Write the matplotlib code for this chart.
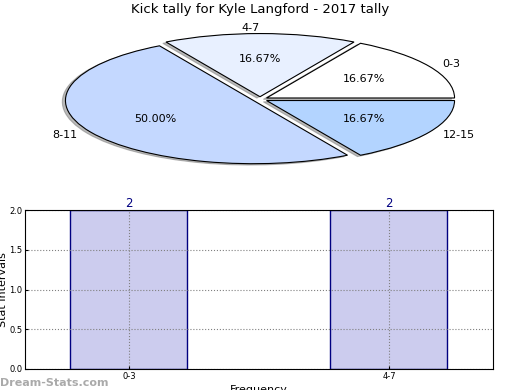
import matplotlib
matplotlib.use('Agg')
import matplotlib.pyplot as plt

# pie data
pie_labels = ['0-3', '4-7', '8-11', '12-15']
pie_values = [1, 1, 3, 1]
pie_colors = ['#ffffff', '#e8f0ff', '#c4d8ff', '#b3d4ff']

# bar data
bar_labels = ['0-3', '4-7']
bar_values = [2, 2]

fig = plt.figure(figsize=(5.2, 3.9), dpi=100)

# pie chart (stretched, not equal aspect)
ax1 = fig.add_axes([0.048, 0.543, 0.904, 0.405])
ax1.pie(pie_values, labels=pie_labels, colors=pie_colors, autopct='%1.2f%%',
        explode=[0.04] * 4, shadow={'ox': -0.012, 'oy': -0.015, 'color': '#777777'},
        startangle=0, labeldistance=1.08,
        wedgeprops={'edgecolor': 'black', 'linewidth': 0.8},
        textprops={'fontsize': 8})
ax1.set_aspect('auto')
ax1.set_title('Kick tally for Kyle Langford - 2017 tally', fontsize=9.5, pad=5)

# bar chart
ax2 = fig.add_axes([0.048, 0.054, 0.9, 0.407])
pos = list(range(len(bar_values)))
ax2.bar(pos, bar_values, width=0.45, color='#ccccee', edgecolor='navy', linewidth=1)
for p, v in zip(pos, bar_values):
    ax2.text(p, v, str(v), ha='center', va='bottom', color='navy', fontsize=8.5)
ax2.set_xlim(-0.4, 1.4)
ax2.set_ylim(0, 2.0)
ax2.set_xticks(pos)
ax2.set_xticklabels(bar_labels, fontsize=6)
ax2.set_yticks([0.0, 0.5, 1.0, 1.5, 2.0])
ax2.set_yticklabels(['0.0', '0.5', '1.0', '1.5', '2.0'], fontsize=6)
ax2.tick_params(direction='in', length=2, pad=2)
ax2.grid(True, linestyle=':', color='gray', linewidth=0.8)
ax2.set_ylabel('Stat Intervals', fontsize=8, labelpad=1)
ax2.set_xlabel('Frequency', fontsize=8, labelpad=3)

fig.text(0.0, 0.01, 'Dream-Stats.com', fontsize=8, color='#aaaaaa', fontweight='bold')

plt.savefig('out.png', dpi=100)
